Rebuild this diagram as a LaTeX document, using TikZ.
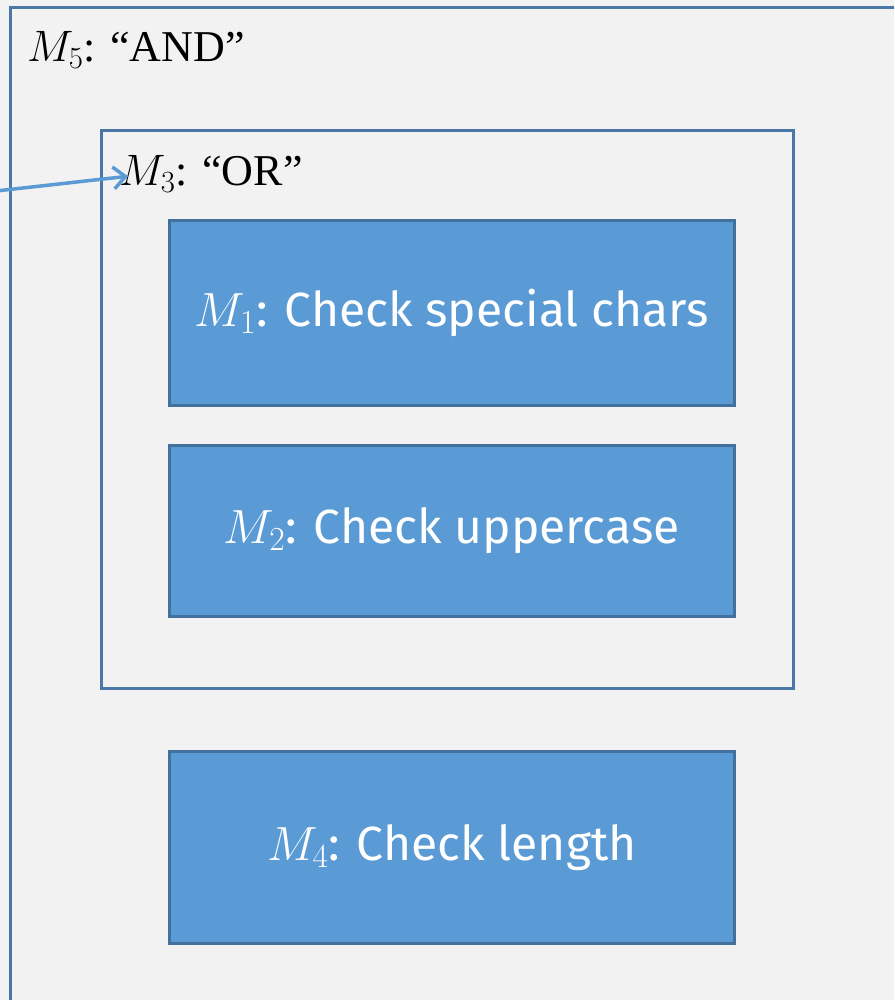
\documentclass[tikz,border=0pt]{standalone}
\usepackage{fix-cm}
\usepackage{fontspec}
\setmainfont{Liberation Serif}
\setsansfont{Fira Sans}
\usetikzlibrary{arrows.meta}
\definecolor{bgc}{HTML}{F2F2F2}
\definecolor{edge}{HTML}{4A76A8}
\definecolor{boxfill}{HTML}{5B9BD5}
\definecolor{boxedge}{HTML}{41719C}
\definecolor{arrowc}{HTML}{5B9BD5}
\tikzset{
  group/.style={draw=edge, line width=2.6pt, fill=none, inner sep=0pt, anchor=north west},
  module/.style={draw=boxedge, line width=2.6pt, fill=boxfill, text=white, inner sep=0pt,
    font=\sffamily\fontsize{48}{56}\selectfont, anchor=north west},
  grouplabel/.style={font=\fontsize{44}{50}\selectfont, inner sep=0pt, anchor=base west},
  link/.style={draw=arrowc, line width=3.5pt, -{Straight Barb[length=12pt,width=22pt,line width=3.5pt]}}
}
\begin{document}
\begin{tikzpicture}[x=1pt,y=-1pt]
\fill[bgc] (0,0) rectangle (894,1000);
\useasboundingbox (0,0) rectangle (894,1000);
\clip (0,0) rectangle (894,1000);
\node[group, minimum width=920pt, minimum height=1020pt] (m5) at (9,6) {};
\node[grouplabel] (m5lab) at (27,62) {$M_5$: ``AND''};
\node[group, minimum width=692pt, minimum height=558pt] (m3) at (100,129) {};
\node[grouplabel] (m3lab) at (119,186) {$M_3$: ``OR''};
\node[module, minimum width=565pt, minimum height=185pt] (m1) at (168,219) {$M_1$: Check special chars};
\node[module, minimum width=565pt, minimum height=171pt] (m2) at (168,444) {$M_2$: Check uppercase};
\node[module, minimum width=565pt, minimum height=192pt] (m4) at (168,750) {$M_4$: Check length};
\coordinate (src) at (-4,191);
\draw[link] (src) -- ([xshift=9pt,yshift=-2pt]m3lab.west);
\end{tikzpicture}
\end{document}
